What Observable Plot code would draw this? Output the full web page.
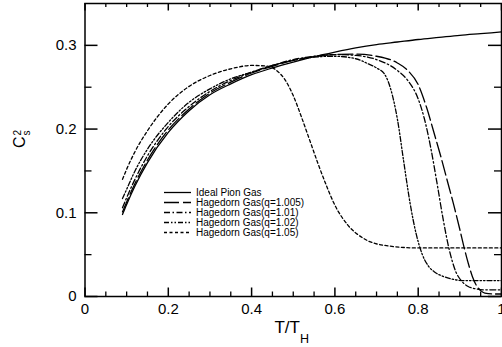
<!DOCTYPE html>
<html><head><meta charset="utf-8">
<script src="https://cdn.jsdelivr.net/npm/d3@7"></script>
<script src="https://cdn.jsdelivr.net/npm/@observablehq/plot@0.6"></script>
<style>html,body{margin:0;padding:0;background:#fff;} #chart{width:502px;height:347px;overflow:hidden;}</style>
</head><body><div id="chart"></div>
<script>
// ---- data ----
const seriesNames = ["Ideal Pion Gas", "Hagedorn Gas(q=1.005)", "Hagedorn Gas(q=1.01)", "Hagedorn Gas(q=1.02)", "Hagedorn Gas(q=1.05)"];

const xIdeal = [0.09,0.10,0.12,0.15,0.20,0.25,0.30,0.35,0.40,0.45,0.50,0.55,0.60,0.65,0.70,0.75,0.80,0.85,0.90,0.95,1.00];
const yIdeal = [0.098,0.110,0.132,0.160,0.196,0.222,0.241,0.254,0.265,0.273,0.280,0.2865,0.292,0.297,0.301,0.304,0.307,0.3095,0.312,0.314,0.316];

const xQ1005 = [0.09,0.10,0.12,0.15,0.20,0.25,0.30,0.35,0.40,0.45,0.50,0.55,0.60,0.65,0.70,0.75,0.775,0.80,0.82,0.84,0.855,0.87,0.885,0.90,0.91,0.92,0.93,0.94,0.95,0.96,0.98,1.00];
const yQ1005 = [0.101,0.113,0.135,0.163,0.199,0.224,0.243,0.256,0.267,0.275,0.282,0.2865,0.289,0.2895,0.287,0.279,0.270,0.253,0.226,0.192,0.166,0.138,0.110,0.080,0.059,0.040,0.024,0.013,0.007,0.004,0.003,0.003];

const xQ101 = [0.09,0.10,0.12,0.15,0.20,0.25,0.30,0.35,0.40,0.45,0.50,0.55,0.60,0.65,0.70,0.75,0.775,0.80,0.815,0.83,0.845,0.86,0.875,0.89,0.905,0.92,0.94,0.96,1.00];
const yQ101 = [0.106,0.118,0.140,0.168,0.203,0.227,0.245,0.258,0.268,0.276,0.283,0.287,0.289,0.288,0.283,0.270,0.258,0.236,0.212,0.178,0.136,0.092,0.055,0.030,0.018,0.012,0.009,0.008,0.008];

const xQ102 = [0.09,0.10,0.12,0.15,0.20,0.25,0.30,0.35,0.40,0.45,0.50,0.55,0.60,0.65,0.68,0.70,0.72,0.735,0.75,0.765,0.78,0.795,0.81,0.825,0.84,0.86,0.88,0.91,0.95,1.00];
const yQ102 = [0.117,0.128,0.150,0.176,0.208,0.232,0.248,0.260,0.268,0.276,0.282,0.286,0.287,0.284,0.278,0.273,0.265,0.246,0.212,0.162,0.113,0.075,0.050,0.036,0.029,0.024,0.021,0.019,0.019,0.019];

const xQ105 = [0.09,0.10,0.12,0.15,0.20,0.25,0.30,0.35,0.40,0.44,0.46,0.48,0.50,0.52,0.54,0.56,0.58,0.60,0.63,0.67,0.72,0.80,0.90,1.00];
const yQ105 = [0.140,0.152,0.173,0.198,0.230,0.251,0.264,0.272,0.276,0.275,0.270,0.259,0.240,0.214,0.186,0.158,0.132,0.109,0.086,0.069,0.061,0.058,0.058,0.058];

const xTicks = [0, 0.2, 0.4, 0.6, 0.8, 1];
const xMinorTicks = [0.05,0.1,0.15,0.25,0.3,0.35,0.45,0.5,0.55,0.65,0.7,0.75,0.85,0.9,0.95];
const yTicks = [0, 0.1, 0.2, 0.3];
const yMinorTicks = [0.05, 0.15, 0.25];

// ---- styles / layout ----
const dashes = [null, "15,4", "6,2.5,1.5,2.5", "5,2,1.5,2,1.5,2", "3,2.5"];
const W = 502, H = 347, mL = 84.5, mR = 1, mT = 3, mB = 51;
const fw = W - mL - mR, fh = H - mT - mB;
const font = "'Liberation Sans', Arial, Helvetica, sans-serif";

const series = [[xIdeal, yIdeal], [xQ1005, yQ1005], [xQ101, yQ101], [xQ102, yQ102], [xQ105, yQ105]]
  .map(([xs, ys], i) => ({name: seriesNames[i], rows: xs.map((x, j) => ({x, y: ys[j]}))}));

const lineMarks = series.map((s, i) => Plot.line(s.rows, {
  x: "x", y: "y", stroke: "black", strokeWidth: 1.3,
  strokeDasharray: dashes[i], curve: "monotone-x"
}));

const fmt = d => String(d);
const plot = Plot.plot({
  width: W, height: H,
  marginLeft: mL, marginRight: mR, marginTop: mT, marginBottom: mB,
  style: {fontFamily: font, fontSize: "15px", background: "white", color: "black", overflow: "visible"},
  x: {domain: [0, 1], label: null},
  y: {domain: [0, 0.35], label: null},
  marks: [
    ...lineMarks,
    Plot.axisX({ticks: xTicks, tickSize: 0, tickPadding: 7, tickFormat: fmt, label: null}),
    Plot.axisY({ticks: yTicks, tickSize: 0, tickPadding: 8.5, tickFormat: fmt, label: null}),
    // inward ticks, bottom / top
    Plot.tickX(xTicks, {x: d => d, insetTop: fh - 8.5, strokeWidth: 1.5}),
    Plot.tickX(xTicks, {x: d => d, insetBottom: fh - 7.5, strokeWidth: 1.5}),
    Plot.tickX(xMinorTicks, {x: d => d, insetTop: fh - 4.5, strokeWidth: 1.3}),
    Plot.tickX(xMinorTicks, {x: d => d, insetBottom: fh - 4, strokeWidth: 1.3}),
    // inward ticks, left / right
    Plot.tickY(yTicks, {y: d => d, insetRight: fw - 13, strokeWidth: 1.5}),
    Plot.tickY(yTicks, {y: d => d, insetLeft: fw - 13, strokeWidth: 1.5}),
    Plot.tickY(yMinorTicks, {y: d => d, insetRight: fw - 7, strokeWidth: 1.3}),
    Plot.tickY(yMinorTicks, {y: d => d, insetLeft: fw - 7, strokeWidth: 1.3}),
    Plot.frame({stroke: "black", strokeWidth: 1.5})
  ]
});
document.getElementById("chart").append(plot);

const svg = d3.select(plot);

// x-axis title  T/T_H
const xt = svg.append("text")
  .attr("x", mL + fw / 2 - 1).attr("y", 333)
  .attr("text-anchor", "middle").attr("font-family", font).attr("font-size", 17).attr("fill", "black");
xt.append("tspan").text("T/T");
xt.append("tspan").attr("font-size", 12.5).attr("dy", 10).text("H");

// y-axis title  C_s^2 (rotated)
const yt = svg.append("g").attr("transform", "translate(25,148) rotate(-90)")
  .attr("font-family", font).attr("fill", "black").attr("text-anchor", "start");
yt.append("text").attr("x", 0).attr("y", 0).attr("font-size", 16).attr("text-anchor", "start").text("C");
yt.append("text").attr("x", 12.5).attr("y", -4.5).attr("font-size", 10).attr("text-anchor", "start").text("2");
yt.append("text").attr("x", 12.5).attr("y", 5).attr("font-size", 10).attr("text-anchor", "start").text("s");

// legend inside the frame
const lg = svg.append("g").attr("font-family", font).attr("font-size", 10).attr("fill", "black").attr("text-anchor", "start");
seriesNames.forEach((name, i) => {
  const cy = 192.5 + i * 10;
  lg.append("line").attr("x1", 164).attr("x2", 191).attr("y1", cy).attr("y2", cy)
    .attr("stroke", "black").attr("stroke-width", 1.3)
    .attr("stroke-dasharray", dashes[i]);
  lg.append("text").attr("x", 196).attr("y", cy + 3.5).attr("text-anchor", "start").text(name);
});
</script>
</body></html>
